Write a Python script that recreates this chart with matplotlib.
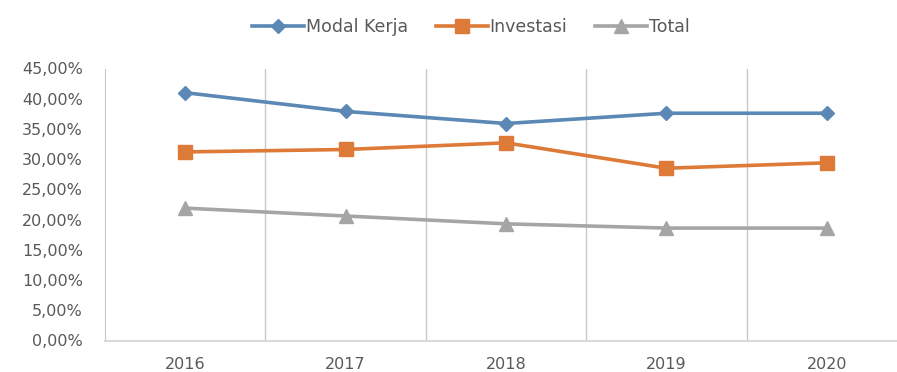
import matplotlib
matplotlib.use("Agg")
import matplotlib.pyplot as plt
from matplotlib.ticker import FuncFormatter

years = ["2016", "2017", "2018", "2019", "2020"]
modal_kerja = [41.0, 37.9, 35.9, 37.6, 37.6]
investasi = [31.2, 31.6, 32.7, 28.5, 29.4]
total = [21.9, 20.6, 19.3, 18.6, 18.6]

TXT = "#595959"
GRID = "#c8c8c8"

plt.rcParams["font.family"] = ["DejaVu Sans"]

fig = plt.figure(figsize=(8.97, 3.72), dpi=100)
# right edge runs past the canvas, as in the cropped original
ax = fig.add_axes([105 / 897, 1 - 340.5 / 372, 802 / 897, 272 / 372])

x = list(range(len(years)))
ax.plot(x, modal_kerja, color="#5b88b4", lw=2.6, marker="D", ms=7.5, label="Modal Kerja")
ax.plot(x, investasi, color="#dd7a38", lw=2.6, marker="s", ms=10, label="Investasi")
ax.plot(x, total, color="#a5a5a5", lw=2.6, marker="^", ms=9.5, label="Total")

ax.set_xlim(-0.5, len(years) - 0.5)
ax.set_ylim(0, 45)
ax.set_yticks(range(0, 46, 5))
ax.yaxis.set_major_formatter(FuncFormatter(lambda v, _: f"{v:.2f}%".replace(".", ",")))
ax.set_xticks(x)
ax.set_xticklabels(years)
for b in [i + 0.5 for i in x[:-1]]:
    ax.axvline(b, color=GRID, lw=1, zorder=0)

for s in ("top", "right"):
    ax.spines[s].set_visible(False)
ax.spines["left"].set_color(GRID)
ax.spines["bottom"].set_color("#d9d9d9")
ax.spines["bottom"].set_linewidth(1.5)
ax.tick_params(length=0, colors=TXT, labelsize=11.5)
ax.tick_params(axis="y", pad=16)
ax.tick_params(axis="x", pad=12)
for t in ax.get_xticklabels():
    t.set_fontsize(11.5)

leg = fig.legend(loc="center", bbox_to_anchor=(0.525, 0.927), ncol=3, frameon=False,
                 fontsize=12.5, handlelength=3.0, columnspacing=1.6, handletextpad=0.1)
for t in leg.get_texts():
    t.set_color(TXT)

fig.savefig("out.png", dpi=100)
